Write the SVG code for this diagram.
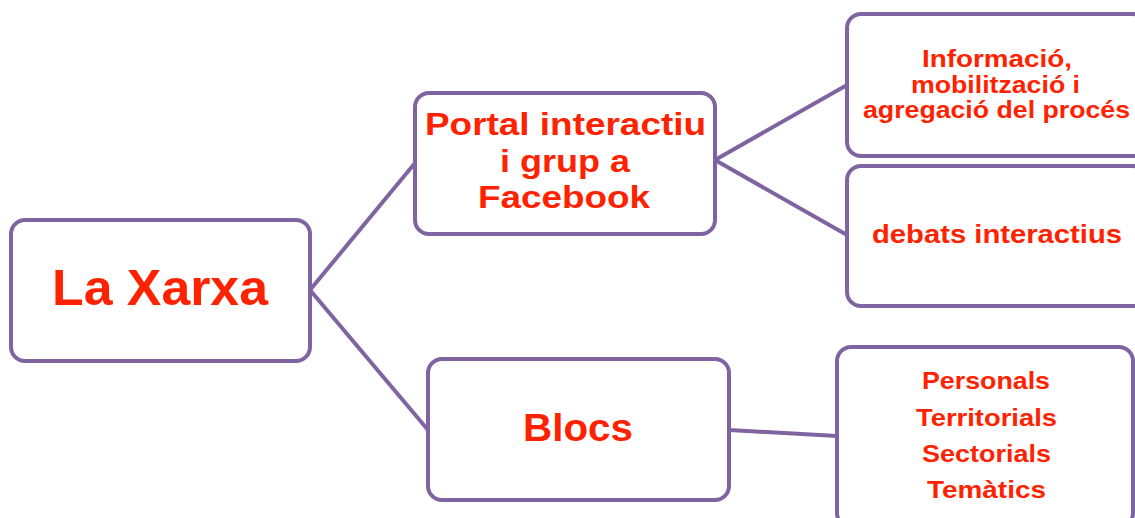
<svg xmlns="http://www.w3.org/2000/svg" width="1135" height="518" viewBox="0 0 1135 518">
<style>
.box{fill:#fff;stroke:#8064a2;stroke-width:4}
.con{stroke:#8064a2;stroke-width:4;fill:none}
text{font-family:"Liberation Sans",Arial,sans-serif;font-weight:bold;fill:#ff2200;text-anchor:middle}
.s1{font-size:32px}
.s2{font-size:24px}
</style>
<rect width="1135" height="518" fill="#fff"/>
<g id="connectors">
<line class="con" x1="310" y1="290" x2="415" y2="163"/>
<line class="con" x1="310" y1="290" x2="428" y2="430"/>
<line class="con" x1="715" y1="160" x2="847" y2="85"/>
<line class="con" x1="715" y1="160" x2="847" y2="235"/>
<line class="con" x1="729" y1="430" x2="837" y2="436"/>
</g>
<g id="n-xarxa">
<rect class="box" x="11" y="220" width="299" height="141" rx="14"/>
<text x="160" y="305" font-size="50" textLength="216" lengthAdjust="spacingAndGlyphs">La Xarxa</text>
</g>
<g id="n-portal">
<rect class="box" x="415" y="93" width="300" height="141" rx="14"/>
<text class="s1" x="565.5" y="135" textLength="281" lengthAdjust="spacingAndGlyphs">Portal interactiu</text>
<text class="s1" x="565" y="172" textLength="130" lengthAdjust="spacingAndGlyphs">i grup a</text>
<text class="s1" x="564" y="208" textLength="172" lengthAdjust="spacingAndGlyphs">Facebook</text>
</g>
<g id="n-info">
<rect class="box" x="847" y="14" width="300" height="142" rx="14"/>
<text class="s2" x="997" y="67" textLength="150" lengthAdjust="spacingAndGlyphs">Informació,</text>
<text class="s2" x="995.5" y="93" textLength="169" lengthAdjust="spacingAndGlyphs">mobilització i</text>
<text class="s2" x="996.5" y="118" textLength="267" lengthAdjust="spacingAndGlyphs">agregació del procés</text>
</g>
<g id="n-debats">
<rect class="box" x="847" y="166" width="300" height="140" rx="14"/>
<text x="997" y="243" font-size="25" textLength="250" lengthAdjust="spacingAndGlyphs">debats interactius</text>
</g>
<g id="n-blocs">
<rect class="box" x="428" y="359" width="301" height="141" rx="14"/>
<text x="578" y="441" font-size="38" textLength="110" lengthAdjust="spacingAndGlyphs">Blocs</text>
</g>
<g id="n-tipus">
<rect class="box" x="837" y="347" width="296" height="180" rx="14"/>
<text class="s2" x="986" y="389" textLength="128" lengthAdjust="spacingAndGlyphs">Personals</text>
<text class="s2" x="986.5" y="426" textLength="141" lengthAdjust="spacingAndGlyphs">Territorials</text>
<text class="s2" x="986.5" y="462" textLength="129" lengthAdjust="spacingAndGlyphs">Sectorials</text>
<text class="s2" x="986.5" y="498" textLength="119" lengthAdjust="spacingAndGlyphs">Temàtics</text>
</g>
</svg>
